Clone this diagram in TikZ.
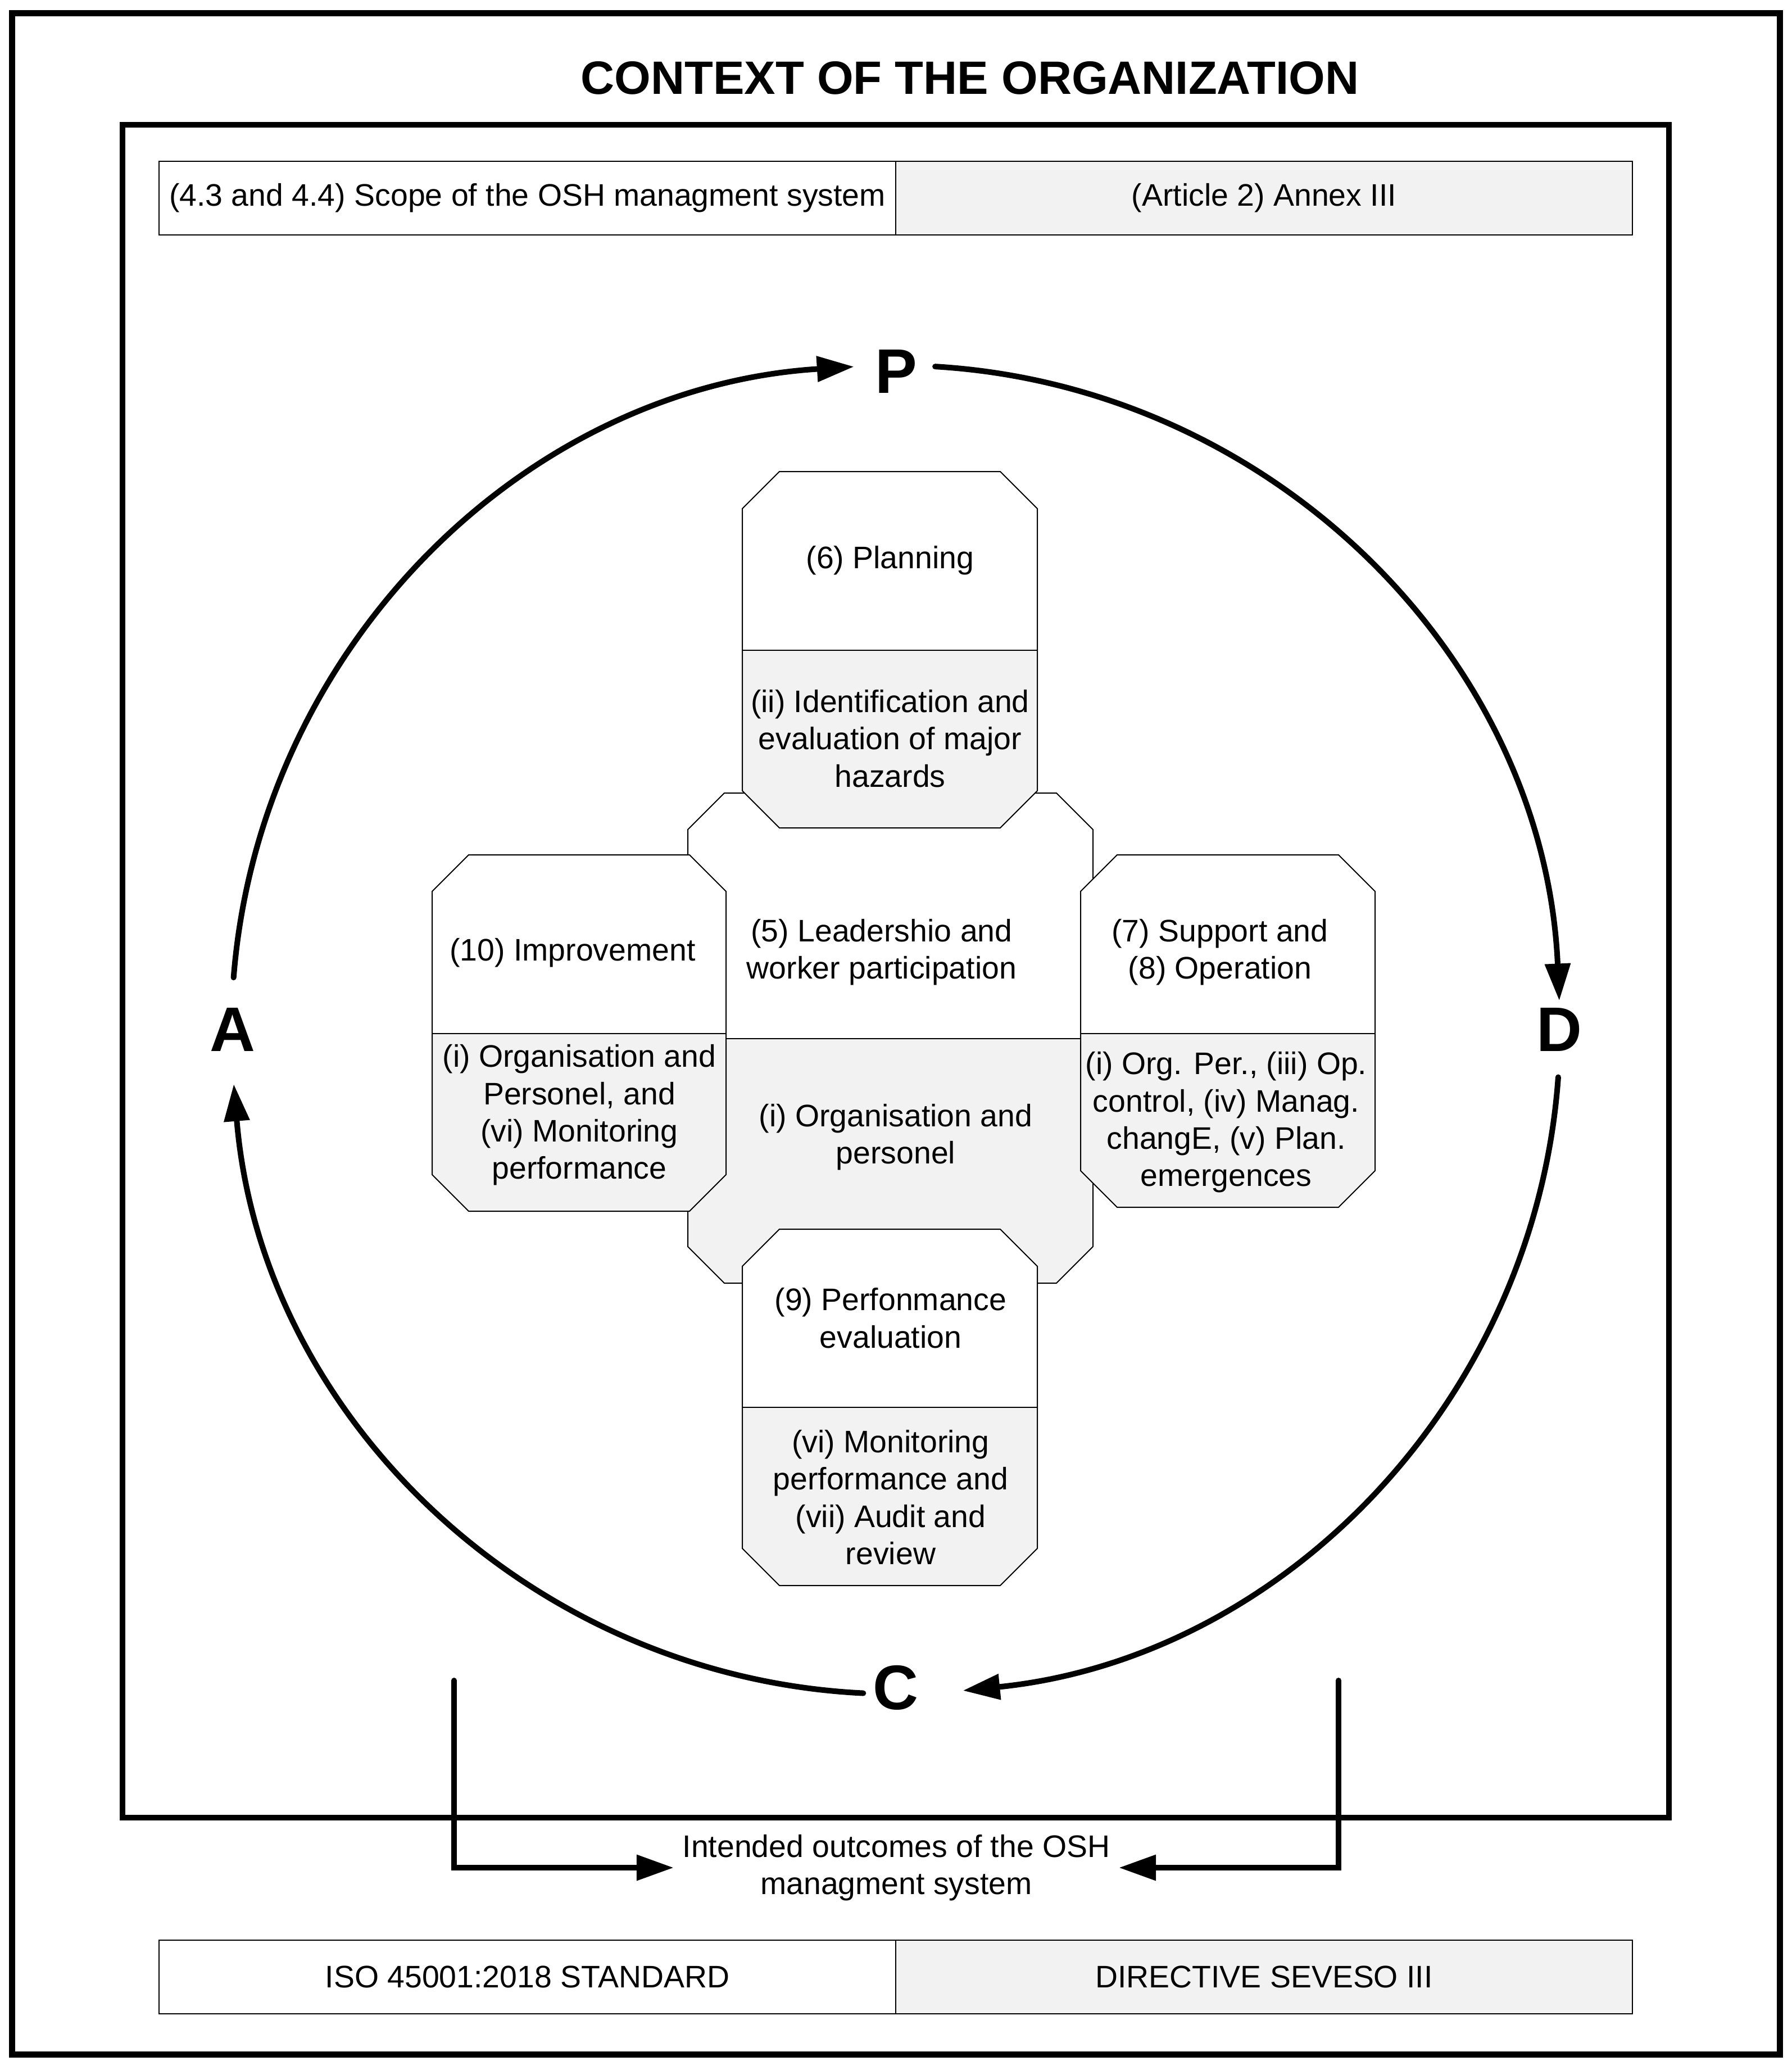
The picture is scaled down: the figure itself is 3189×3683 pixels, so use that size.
\documentclass[tikz,border=0pt]{standalone}
\usepackage{fontspec}
\setmainfont{Liberation Sans}
\usetikzlibrary{arrows.meta,calc}
\definecolor{boxgray}{RGB}{242,242,242}
\tikzset{
  body/.style={font=\fontsize{13.85}{16.6}\selectfont, align=center, inner sep=0pt},
  cellbox/.style={draw, line width=0.5pt, minimum width=327.75pt, minimum height=32.75pt,
    inner sep=0pt, font=\fontsize{13.85}{16.6}\selectfont},
  letter/.style={font=\bfseries\fontsize{28}{30}\selectfont, inner sep=0pt},
  cyc/.style={line width=2.5pt, line cap=round, -{Triangle[length=16.5pt,width=11pt]}},
  bracket/.style={line width=2.5pt, line cap=round, -{Triangle[length=16.5pt,width=11pt]}},
  thinline/.style={line width=0.5pt},
}
% x1 y1 x2 y2 ydiv chamfer
\newcommand{\octbox}[6]{%
  \fill[white] (#1+#6,#2) -- (#3-#6,#2) -- (#3,#2+#6) -- (#3,#4-#6) -- (#3-#6,#4) -- (#1+#6,#4) -- (#1,#4-#6) -- (#1,#2+#6) -- cycle;
  \begin{scope}
    \clip (#1+#6,#2) -- (#3-#6,#2) -- (#3,#2+#6) -- (#3,#4-#6) -- (#3-#6,#4) -- (#1+#6,#4) -- (#1,#4-#6) -- (#1,#2+#6) -- cycle;
    \fill[boxgray] (#1,#5) rectangle (#3,#4);
  \end{scope}
  \draw[thinline] (#1,#5) -- (#3,#5);
  \draw[thinline] (#1+#6,#2) -- (#3-#6,#2) -- (#3,#2+#6) -- (#3,#4-#6) -- (#3-#6,#4) -- (#1+#6,#4) -- (#1,#4-#6) -- (#1,#2+#6) -- cycle;
}
\begin{document}
\begin{tikzpicture}[x=0.25pt,y=-0.25pt]
\useasboundingbox (0,0) rectangle (3189,3683);

% frames
\draw[line width=2.75pt] (21.5,23.5) rectangle (3167.5,3655);
\draw[line width=2.5pt] (218,222) rectangle (2970,3234);

% title
\node[font=\bfseries\fontsize{20.8}{24}\selectfont, inner sep=0pt] (title) at (1726,139) {CONTEXT OF THE ORGANIZATION};

% top table
\node[cellbox, fill=white] (scope) at (938.5,352.5) {(4.3 and 4.4) Scope of the OSH managment system};
\node[cellbox, fill=boxgray] (annex) at (2249.5,352.5) {(Article 2) Annex III};

% bottom table
\node[cellbox, fill=white] (iso) at (938.5,3517.5) {ISO 45001:2018 STANDARD};
\node[cellbox, fill=boxgray] (seveso) at (2249.5,3517.5) {DIRECTIVE SEVESO III};

% central cross
\octbox{1224}{1411}{1945}{2283}{1848}{65}
\octbox{1321}{839}{1846}{1473}{1157}{66}
\octbox{1321}{2187}{1846}{2821}{2504}{66}
\octbox{769}{1521}{1292}{2155}{1839}{65}
\octbox{1923}{1521}{2447}{2148}{1839}{65}

\node[body] (plan1) at (1584,997) {(6) Planning};
\node[body] (plan2) at (1584,1314) {(ii) Identification and\\evaluation of major\\hazards};
\node[body] (lead1) at (1569,1694) {(5) Leadershio and\\worker participation};
\node[body] (lead2) at (1594,2023) {(i) Organisation and\\personel};
\node[body] (impr1) at (1019,1695) {(10) Improvement};
\node[body] (impr2) at (1031,1984) {(i) Organisation and\\Personel, and\\(vi) Monitoring\\performance};
\node[body] (supp1) at (2171,1694) {(7) Support and\\(8) Operation};
\node[body] (supp2) at (2182,1997) {(i) Org. Per., (iii) Op.\\control, (iv) Manag.\\changE, (v) Plan.\\emergences};
\node[body] (perf1) at (1585,2345) {(9) Perfonmance\\evaluation};
\node[body] (perf2) at (1585,2664) {(vi) Monitoring\\performance and\\(vii) Audit and\\review};

% PDCA cycle
\coordinate (O) at (1594,1832);
\node[letter] (P) at (1595,661) {P};
\node[letter] (D) at (2775,1832) {D};
\node[letter] (C) at (1594,3003) {C};
\node[letter] (A) at (414,1832) {A};

\coordinate (a1) at ($(O)+(175.5:295.5pt)$);
\coordinate (a2) at ($(O)+(86.6:295.5pt)$);
\coordinate (a3) at ($(O)+(-4.1:295.5pt)$);
\coordinate (a4) at ($(O)+(-92.8:295.5pt)$);
\draw[cyc] (a1) arc[start angle=175.5, end angle=93.6, radius=295.5pt];
\draw[cyc] (a2) arc[start angle=86.6, end angle=2.5, radius=295.5pt];
\draw[cyc] (a3) arc[start angle=-4.1, end angle=-84.2, radius=295.5pt];
\draw[cyc] (a4) arc[start angle=-92.8, end angle=-175.3, radius=295.5pt];

% intended outcomes
\coordinate (bl) at (808,2990);
\coordinate (br) at (2382,2990);
\node[body, inner xsep=3.75pt] (outcome) at (1595,3323) {Intended outcomes of the OSH\\managment system};
\draw[bracket] (bl) |- (outcome.west);
\draw[bracket] (br) |- (outcome.east);
\end{tikzpicture}
\end{document}
